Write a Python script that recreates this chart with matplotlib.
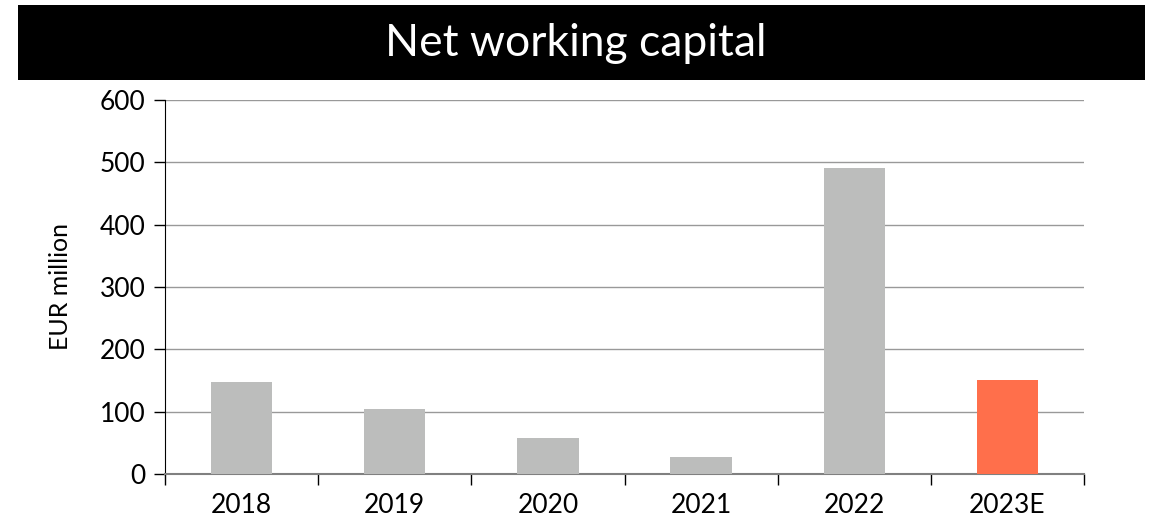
import matplotlib.pyplot as plt
from matplotlib.patches import Rectangle
from matplotlib.ticker import FixedLocator

categories = ['2018', '2019', '2020', '2021', '2022', '2023E']
values = [148, 104, 58, 27, 491, 151]
colors = ['#bcbdbc'] * 5 + ['#ff6f4b']

plt.rcParams['font.family'] = ['Lato', 'DejaVu Sans']

fig = plt.figure(figsize=(11.52, 5.24), dpi=100)

# black title banner
fig.patches.append(Rectangle((18 / 1152, 1 - 80 / 524), (1145 - 18) / 1152, 75 / 524,
                             transform=fig.transFigure, facecolor='black', edgecolor='none'))
fig.text(0.5, 1 - 44 / 524, 'Net working capital', color='white', fontsize=32,
         ha='center', va='center')

ax = fig.add_axes([165 / 1152, 50 / 524, (1084 - 165) / 1152, 374 / 524])
x = list(range(len(categories)))
ax.bar(x, values, width=0.4, color=colors, zorder=3)

ax.set_xlim(-0.5, len(categories) - 0.5)
ax.set_ylim(0, 600)
ax.set_yticks(range(0, 601, 100))
ax.set_xticks(x)
ax.set_xticklabels(categories)
ax.xaxis.set_minor_locator(FixedLocator([i - 0.5 for i in range(len(categories) + 1)]))
ax.tick_params(axis='x', which='major', length=0, pad=14, labelsize=19)
ax.tick_params(axis='x', which='minor', length=8, width=1, color='black', direction='out')
ax.tick_params(axis='y', length=8, width=1, color='black', labelsize=19, pad=6)

ax.grid(axis='y', color='#999999', linewidth=1, zorder=0)
for s in ['top', 'right']:
    ax.spines[s].set_visible(False)
ax.spines['left'].set_color('black')
ax.spines['bottom'].set_color('#808080')
ax.spines['bottom'].set_linewidth(1.5)

ax.set_ylabel('EUR million', fontsize=18, labelpad=20)

fig.savefig('out.png', dpi=100)
